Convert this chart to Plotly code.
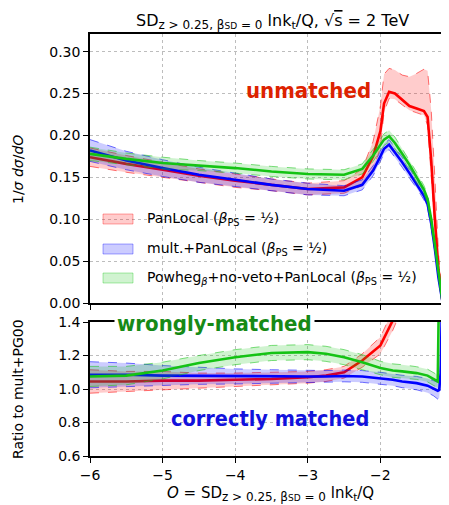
import plotly.graph_objects as go

# ---------------- data ----------------
x_top = [-6.0, -5.5, -5.0, -4.5, -4.0, -3.5, -3.0, -2.5, -2.25, -2.1, -2.0, -1.95, -1.88,
         -1.8, -1.7, -1.6, -1.5, -1.4, -1.35, -1.3, -1.25, -1.2, -1.15, -1.1, -1.05]

red_top = [0.174, 0.166, 0.159, 0.152, 0.146, 0.141, 0.136, 0.138, 0.150, 0.175, 0.205, 0.238, 0.252,
           0.250, 0.242, 0.235, 0.232, 0.229, 0.222, 0.170, 0.100, 0.040, 0.005, 0.001, 0.0005]
red_top_up = [0.011, 0.010, 0.009, 0.008, 0.008, 0.007, 0.007, 0.008, 0.010, 0.018, 0.030, 0.035, 0.028,
              0.028, 0.030, 0.035, 0.042, 0.050, 0.055, 0.060, 0.050, 0.020, 0.003, 0.001, 0.0005]
red_top_dn = [0.011, 0.010, 0.009, 0.008, 0.008, 0.007, 0.007, 0.007, 0.010, 0.015, 0.020, 0.010, 0.008,
              0.007, 0.006, 0.005, 0.005, 0.005, 0.010, 0.020, 0.020, 0.010, 0.002, 0.001, 0.0005]

blue_top = [0.182, 0.170, 0.161, 0.153, 0.147, 0.141, 0.136, 0.134, 0.141, 0.158, 0.175, 0.184, 0.189,
            0.180, 0.168, 0.155, 0.142, 0.128, 0.118, 0.095, 0.065, 0.030, 0.004, 0.001, 0.0005]
blue_top_err = [0.013, 0.011, 0.010, 0.009, 0.008, 0.007, 0.007, 0.006, 0.006, 0.006, 0.006, 0.006, 0.006,
                0.006, 0.006, 0.006, 0.005, 0.005, 0.005, 0.005, 0.004, 0.003, 0.001, 0.0005, 0.0002]

green_top = [0.178, 0.172, 0.167, 0.164, 0.161, 0.157, 0.154, 0.153, 0.160, 0.176, 0.188, 0.195, 0.199,
             0.191, 0.178, 0.165, 0.150, 0.135, 0.124, 0.100, 0.070, 0.035, 0.005, 0.001, 0.0005]
green_top_err = [0.008, 0.007, 0.007, 0.006, 0.006, 0.006, 0.006, 0.006, 0.006, 0.007, 0.007, 0.007, 0.007,
                 0.007, 0.006, 0.006, 0.006, 0.005, 0.005, 0.005, 0.004, 0.003, 0.001, 0.0005, 0.0002]

x_ratio = [-6.0, -5.5, -5.0, -4.5, -4.0, -3.5, -3.0, -2.75, -2.5, -2.25, -2.0, -1.83, -1.7,
           -1.5, -1.35, -1.27, -1.21, -1.19, -1.17, -1.14, -1.1]

red_ratio = [1.045, 1.045, 1.05, 1.05, 1.055, 1.06, 1.07, 1.08, 1.10, 1.17, 1.26, 1.41, 1.55,
             1.70, 1.80, 1.90, 1.90, 1.90, 1.90, 1.90, 1.90]
red_ratio_err = [0.07, 0.06, 0.055, 0.045, 0.04, 0.038, 0.035, 0.035, 0.035, 0.04, 0.05, 0.06, 0.07,
                 0.07, 0.07, 0.07, 0.07, 0.07, 0.07, 0.07, 0.07]

blue_ratio = [1.085, 1.085, 1.08, 1.078, 1.075, 1.075, 1.075, 1.075, 1.078, 1.075, 1.065, 1.055, 1.045,
              1.035, 1.02, 1.005, 0.99, 0.995, 1.10, 1.80, 1.90]
blue_ratio_err = [0.078, 0.07, 0.06, 0.05, 0.045, 0.04, 0.035, 0.035, 0.035, 0.035, 0.035, 0.035, 0.037,
                  0.04, 0.042, 0.045, 0.05, 0.05, 0.05, 0.05, 0.05]

green_ratio = [1.075, 1.08, 1.11, 1.155, 1.19, 1.215, 1.22, 1.21, 1.19, 1.16, 1.125, 1.11, 1.105,
               1.095, 1.08, 1.058, 1.045, 1.70, 1.80, 1.90, 1.90]
green_ratio_err = [0.06, 0.055, 0.05, 0.045, 0.045, 0.045, 0.045, 0.045, 0.045, 0.045, 0.04, 0.04, 0.04,
                   0.038, 0.038, 0.038, 0.038, 0.038, 0.038, 0.038, 0.038]

x_ticks = [-6, -5, -4, -3, -2, -1]
top_ticks = [0.0, 0.05, 0.10, 0.15, 0.20, 0.25, 0.30]
ratio_ticks = [0.6, 0.8, 1.0, 1.2, 1.4]

legend_labels = [
    "PanLocal (<i>β</i><sub>PS</sub> = ½)",
    "mult.+PanLocal (<i>β</i><sub>PS</sub> = ½)",
    "Powheg<sub><i>β</i></sub>+no-veto+PanLocal (<i>β</i><sub>PS</sub> = ½)",
]

# ---------------- styling ----------------
# the page body has an 8px margin, so the figure is laid out 8px smaller
OFF = 8
W, H = 449 - OFF, 505 - OFF
RED, BLUE, GREEN = "255,0,0", "0,0,255", "20,195,20"
FONT = "DejaVu Sans"
BOLDFONT = "DejaVu Sans Condensed, Liberation Sans Narrow, Liberation Sans, sans-serif"

fig = go.Figure()


def add_band(x, c, lo_err, hi_err, rgb, xa, ya):
    lo = [v - e for v, e in zip(c, lo_err)]
    hi = [v + e for v, e in zip(c, hi_err)]
    edge = dict(color=f"rgba({rgb},0.55)", width=1, dash="dash")
    fig.add_trace(go.Scatter(x=x, y=lo, mode="lines", line=edge, xaxis=xa, yaxis=ya,
                             showlegend=False, hoverinfo="skip"))
    fig.add_trace(go.Scatter(x=x, y=hi, mode="lines", line=edge, xaxis=xa, yaxis=ya,
                             fill="tonexty", fillcolor=f"rgba({rgb},0.2)",
                             showlegend=False, hoverinfo="skip"))
    fig.add_trace(go.Scatter(x=x, y=c, mode="lines", line=dict(color=f"rgb({rgb})", width=2.6),
                             xaxis=xa, yaxis=ya, showlegend=False))


# top panel
add_band(x_top, red_top, red_top_dn, red_top_up, RED, "x", "y")
add_band(x_top, blue_top, blue_top_err, blue_top_err, BLUE, "x", "y")
add_band(x_top, green_top, green_top_err, green_top_err, GREEN, "x", "y")
# ratio panel
add_band(x_ratio, red_ratio, red_ratio_err, red_ratio_err, RED, "x2", "y2")
add_band(x_ratio, blue_ratio, blue_ratio_err, blue_ratio_err, BLUE, "x2", "y2")
add_band(x_ratio, green_ratio, green_ratio_err, green_ratio_err, GREEN, "x2", "y2")


def px(x):
    return (x - OFF) / W


def py(y):
    return 1 - (y - OFF) / H


xdom = [px(90), 1.0]
xrange_ = [-6, -6 + (449 - 90) / 72.6]

common_x = dict(range=xrange_, tickvals=x_ticks, ticks="outside", ticklen=5, tickwidth=1,
                tickcolor="black", showline=True, linecolor="black", linewidth=1.5, mirror=True,
                showgrid=True, gridcolor="#bdbdbd", griddash="dot", gridwidth=1, zeroline=False,
                domain=xdom, automargin=False)
common_y = dict(ticks="outside", ticklen=5, tickwidth=1, tickcolor="black", showline=True,
                linecolor="black", linewidth=1.5, showgrid=True, gridcolor="#bdbdbd",
                griddash="dot", gridwidth=1, zeroline=False, tickfont=dict(size=14),
                automargin=False)

fig.update_layout(
    width=W, height=H, margin=dict(l=0, r=0, t=0, b=0, autoexpand=False),
    paper_bgcolor="white", plot_bgcolor="white",
    font=dict(family=FONT, size=14, color="black"),
    showlegend=False,
    xaxis=dict(**common_x, anchor="y", showticklabels=False),
    yaxis=dict(**common_y, domain=[py(303), py(34)], range=[0, 0.321], tickvals=top_ticks,
               tickformat=".2f", anchor="x"),
    xaxis2=dict(**common_x, anchor="y2", showticklabels=True, tickfont=dict(size=14)),
    yaxis2=dict(**common_y, domain=[py(456), py(322)], range=[0.6, 1.4], tickvals=ratio_ticks,
                tickformat=".1f", anchor="x2"),
)

sub_sd = ("<sub><span style='font-size:12px'>z > 0.25, β</span><span style='font-size:9px'>SD</span>"
          "<span style='font-size:12px'> = 0</span></sub>")

annotations = [
    dict(x=px(272), y=py(9), yanchor="top",
         text="SD" + sub_sd + " lnk<sub>t</sub>/Q, √<span style='text-decoration:overline'>s</span> = 2 TeV",
         font=dict(size=16)),
    dict(x=px(270), y=py(494), text="<i>O</i> = SD" + sub_sd + " lnk<sub>t</sub>/Q",
         font=dict(size=15)),
    dict(x=px(18), y=py(170), text="1/<i>σ</i> <i>dσ</i>/<i>dO</i>", textangle=-90, font=dict(size=14)),
    dict(x=px(18), y=py(389), text="Ratio to mult+PG00", textangle=-90, font=dict(size=14)),
    dict(x=px(308), y=py(91), text="<b>unmatched</b>",
         font=dict(size=22, color="#dd2200", family=BOLDFONT)),
    dict(x=px(214), y=py(323), text="<b>wrongly-matched</b>", bgcolor="white", borderpad=2,
         font=dict(size=22, color="#168a16", family=BOLDFONT)),
    dict(x=px(270), y=py(418), text="<b>correctly matched</b>",
         font=dict(size=21.5, color="#1111dd", family=BOLDFONT)),
]

shapes = []
leg_y = [219, 249, 278]
leg_rgb = [RED, BLUE, GREEN]
for yy, rgb, lab in zip(leg_y, leg_rgb, legend_labels):
    shapes.append(dict(type="rect", xref="paper", yref="paper", x0=px(103), x1=px(133),
                       y0=py(yy + 5), y1=py(yy - 5), fillcolor=f"rgba({rgb},0.2)",
                       line=dict(color=f"rgba({rgb},0.35)", width=1)))
    annotations.append(dict(x=px(145), y=py(yy), text=lab, xanchor="left", font=dict(size=14)))

for a in annotations:
    a.setdefault("xref", "paper")
    a.setdefault("yref", "paper")
    a.setdefault("showarrow", False)
    a.setdefault("xanchor", "center")
    a.setdefault("yanchor", "middle")

fig.update_layout(annotations=annotations, shapes=shapes)
fig.write_html("out.html")
